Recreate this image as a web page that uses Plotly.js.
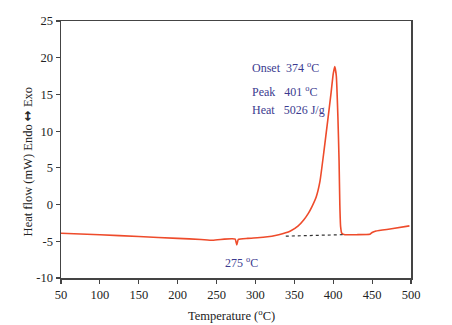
<!DOCTYPE html>
<html>
<head>
<meta charset="utf-8">
<script src="https://cdn.plot.ly/plotly-3.0.1.min.js"></script>
<style>html,body{margin:0;padding:0;background:#fff;}#chart{width:452px;height:325px;}</style>
</head>
<body>
<div id="chart"></div>
<script>
var temperature = [50,100,150,200,230,245,260,270,274,276,278,290,310,330,345,355,362,368,373,378,383,388,393,397,400,402,404,406,407.5,408.5,409.5,411,415,430,447,450,455,475,498];
var heatFlow = [-3.9,-4.1,-4.35,-4.6,-4.75,-4.85,-4.7,-4.65,-4.7,-5.5,-4.75,-4.6,-4.45,-4.1,-3.6,-2.9,-2.1,-1.2,-0.2,1.0,3.2,7.2,11.5,15.0,17.8,18.8,17.5,12.0,6.0,0,-3.0,-3.9,-4.1,-4.1,-4.05,-3.8,-3.6,-3.3,-2.9];
var baselineT = [339, 412];
var baselineQ = [-4.3, -4.1];
var xTicks = [50,100,150,200,250,300,350,400,450,500];
var yTicks = [-10,-5,0,5,10,15,20,25];
var yTickText = ['-10','-5','0','5','10','15','20','25'];

var traces = [
  {x: temperature, y: heatFlow, mode: 'lines', line: {color: '#EE4B2B', width: 1.6, shape: 'spline', smoothing: 0.4}, hoverinfo: 'skip'},
  {x: baselineT, y: baselineQ, mode: 'lines', line: {color: '#333', width: 1.2, dash: 'dot'}, hoverinfo: 'skip'}
];
var ann = {color: '#3B3B8F', size: 12, family: 'Liberation Serif'};
var axisCommon = {showgrid: false, zeroline: false, showline: true, linecolor: '#444', linewidth: 1.5, mirror: true,
  ticks: 'outside', ticklen: 4, tickcolor: '#444', tickwidth: 1.2,
  tickfont: {family: 'Liberation Serif', size: 12.5, color: '#222'}};
var layout = {
  width: 452, height: 325,
  margin: {l: 61, r: 41, t: 21, b: 47},
  paper_bgcolor: '#fff', plot_bgcolor: '#fff',
  showlegend: false,
  xaxis: Object.assign({}, axisCommon, {range: [50, 500], tickvals: xTicks}),
  yaxis: Object.assign({}, axisCommon, {range: [-10, 25], tickvals: yTicks, ticktext: yTickText}),
  annotations: [
    {x: -0.097, y: 0.45, xref: 'paper', yref: 'paper', xanchor: 'center', yanchor: 'middle', textangle: -90,
     text: 'Heat flow (mW) Endo <span style="font-family:\'DejaVu Sans\';font-size:13px;font-weight:bold">↔</span> Exo', showarrow: false,
     font: {family: 'Liberation Serif', size: 12.5, color: '#222'}},
    {x: 0.486, y: -0.144, xref: 'paper', yref: 'paper', xanchor: 'center', yanchor: 'middle',
     text: 'Temperature (<sup>o</sup>C)', showarrow: false,
     font: {family: 'Liberation Serif', size: 12.5, color: '#222'}},
    {x: 293.5, y: 18.7, xref: 'x', yref: 'y', xanchor: 'left', text: 'Onset  374 <sup>o</sup>C', showarrow: false, font: ann},
    {x: 293.5, y: 15.4, xref: 'x', yref: 'y', xanchor: 'left', text: 'Peak   401 <sup>o</sup>C', showarrow: false, font: ann},
    {x: 293.5, y: 12.9, xref: 'x', yref: 'y', xanchor: 'left', text: 'Heat   5026 J/g', showarrow: false, font: ann},
    {x: 258.5, y: -7.9, xref: 'x', yref: 'y', xanchor: 'left', text: '275 <sup>o</sup>C', showarrow: false, font: ann}
  ]
};
Plotly.newPlot('chart', traces, layout, {staticPlot: true, displayModeBar: false});
</script>
</body>
</html>
